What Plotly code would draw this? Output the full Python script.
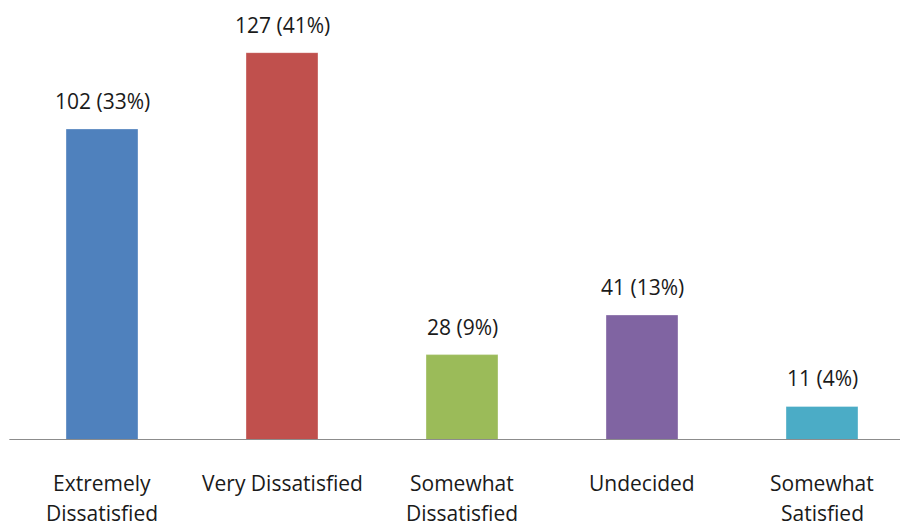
import plotly.graph_objects as go

categories = ["Extremely<br>Dissatisfied", "Very Dissatisfied", "Somewhat<br>Dissatisfied", "Undecided", "Somewhat<br>Satisfied"]
counts = [102, 127, 28, 41, 11]
percents = [33, 41, 9, 13, 4]
colors = ["#4F81BD", "#C0504D", "#9BBB59", "#8064A2", "#4BACC6"]

FONT = "Open Sans, sans-serif"
labels = [f"{c} ({p}%)" for c, p in zip(counts, percents)]
xs = list(range(len(categories)))

fig = go.Figure()
fig.add_trace(go.Bar(
    x=xs, y=counts,
    marker=dict(color=colors, line=dict(color="rgba(255,255,255,0.35)", width=1)),
    width=0.4,
    hoverinfo="skip",
))

for x, y, t in zip(xs, counts, labels):
    fig.add_annotation(x=x, y=y, text=t, showarrow=False, yanchor="bottom",
                       yshift=12, font=dict(family=FONT, size=21, color="#1a1a1a"))

# category labels, each line placed with its own spacing
for x, cat in zip(xs, categories):
    for i, line in enumerate(cat.split("<br>")):
        fig.add_annotation(x=x, xref="x", y=0, yref="paper", text=line, showarrow=False,
                           yanchor="middle", yshift=-43 - 30 * i,
                           font=dict(family=FONT, size=21, color="#1a1a1a"))

fig.update_layout(
    width=900, height=526,
    margin=dict(l=12, r=0, t=10, b=86),
    plot_bgcolor="white", paper_bgcolor="white",
    showlegend=False,
    xaxis=dict(
        range=[-0.5, 4.5 - 12 / 180],
        showgrid=False, zeroline=False, showline=False,
        ticks="", showticklabels=False,
    ),
    yaxis=dict(range=[0, 430 / 3.05], visible=False, showgrid=False, zeroline=False),
    shapes=[dict(type="line", xref="paper", yref="y", x0=-0.003, x1=1, y0=0, y1=0,
                 line=dict(color="#8C8C8C", width=2))],
)

fig.write_html("out.html")
